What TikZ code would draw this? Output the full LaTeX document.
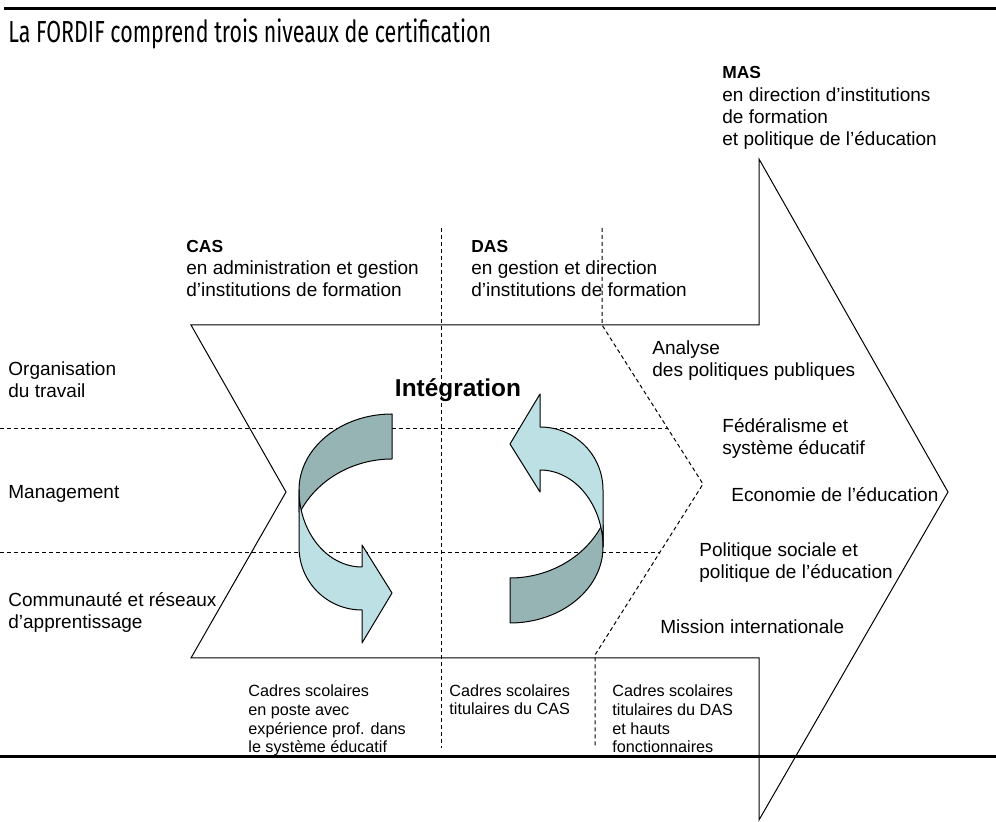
\documentclass[tikz,border=0pt]{standalone}
\usepackage{fontspec}
\setmainfont{Liberation Sans}
\newfontfamily\titlefont[FakeStretch=0.705]{Fira Sans}
\usepackage{tikz}
\usetikzlibrary{positioning}

\definecolor{bandDark}{HTML}{97B4B5}
\definecolor{bandLight}{HTML}{BCE0E3}

\tikzset{
  rule/.style={line width=1.5pt},
  outline/.style={line width=0.5pt, line join=miter},
  sep/.style={line width=0.5pt, dash pattern=on 2pt off 1.5pt},
  label/.style={anchor=base west, inner sep=0pt, align=left,
    font=\fontsize{9.5}{11.2}\selectfont},
  public/.style={label, font=\fontsize{8.1}{9.45}\selectfont},
  band/.style={draw=black, line width=0.5pt, line join=round},
}

\newcommand{\hd}[1]{{\bfseries\fontsize{8.7}{11.2}\selectfont #1}}

% one half of the integration loop (upper face dark, lower face light)
\newcommand{\halfturn}{%
  \filldraw[band, fill=bandDark] (392,414) .. controls (341,414) and (299,448) .. (299,490)
    -- (299,512) -- (300,512) .. controls (318,478) and (355,459) .. (392,459) -- cycle;
  \filldraw[band, fill=bandLight] (299,490) .. controls (299,532) and (327,567) .. (362,567)
    -- (362,545) -- (392,593) -- (362,643) -- (362,610)
    .. controls (327,610) and (299,582) .. (299,547) -- cycle;
}

\begin{document}
\begin{tikzpicture}[x=0.5pt, y=-0.5pt]
    \useasboundingbox (0,0) rectangle (996,822);
    \draw[rule] (4,8.5) -- (996,8.5);
    \draw[rule] (0,757) -- (996,757);
    \node[label, font=\titlefont\fontsize{15.2}{18}\selectfont] (title) at (8,43)
        {La FORDIF comprend trois niveaux de certification};

    % separators
    \draw[sep] (0,429) -- (668,429);
    \draw[sep] (0,553) -- (660,553);
    \draw[sep] (441,228) -- (441,748);
    \draw[sep] (602,228) -- (602,325) -- (703,484) -- (595,655) -- (595,748);

    % the two chevrons
    \draw[outline] (191,325) -- (286,492) -- (191,658) -- (759,658) -- (759,820)
        -- (948,492) -- (759,159) -- (759,325) -- cycle;

    % integration loop
    \halfturn
    \begin{scope}[rotate around={180:(451,518.5)}]
        \halfturn
    \end{scope}
    \node[anchor=base, inner sep=0pt, font=\bfseries\fontsize{12.2}{14}\selectfont]
        (integ) at (458,397) {Intégration};

    % certificates (anchored on the last line)
    \node[label] (cas) at (186,297) {\hd{CAS}\\en administration et gestion\\d’institutions de formation};
    \node[label] (das) at (471,297) {\hd{DAS}\\en gestion et direction\\d’institutions de formation};
    \node[label] (mas) at (722,146) {\hd{MAS}\\en direction d’institutions\\de formation\\et politique de l’éducation};

    % modules CAS
    \node[label] (orga) at (8,398) {Organisation\\du travail};
    \node[label] (mgmt) at (8,499) {Management};
    \node[label] (commu) at (8,629) {Communauté et réseaux\\d’apprentissage};

    % modules MAS
    \node[label] (analyse) at (652,377) {Analyse\\des politiques publiques};
    \node[label] (federal) at (722,455) {Fédéralisme et\\système éducatif};
    \node[label] (eco) at (731,502) {Economie de l’éducation};
    \node[label] (socpol) at (699,579) {Politique sociale et\\politique de l’éducation};
    \node[label] (mission) at (660,634) {Mission internationale};

    % participants
    \node[public] (pubA) at (248,753) {Cadres scolaires\\en poste avec\\expérience prof. dans\\le système éducatif};
    \node[public] (pubB) at (449,715) {Cadres scolaires\\titulaires du CAS};
    \node[public] (pubC) at (612,753) {Cadres scolaires\\titulaires du DAS\\et hauts\\fonctionnaires};
\end{tikzpicture}
\end{document}
